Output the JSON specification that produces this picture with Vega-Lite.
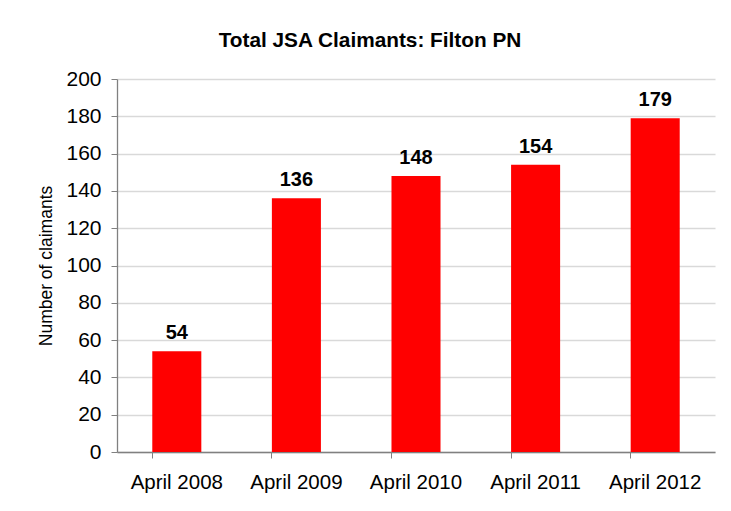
{
  "$schema": "https://vega.github.io/schema/vega-lite/v6.json",
  "width": 598,
  "height": 373,
  "autosize": {"type": "none"},
  "padding": {"left": 117, "top": 79, "right": 16, "bottom": 59},
  "background": "white",
  "title": {
    "text": "Total JSA Claimants: Filton PN",
    "font": "Liberation Sans",
    "fontSize": 20.8,
    "fontWeight": "bold",
    "color": "black",
    "anchor": "middle",
    "frame": "group",
    "dx": -46,
    "offset": 16
  },
  "data": {
    "values": [
      {"period": "April 2008", "claimants": 54},
      {"period": "April 2009", "claimants": 136},
      {"period": "April 2010", "claimants": 148},
      {"period": "April 2011", "claimants": 154},
      {"period": "April 2012", "claimants": 179}
    ]
  },
  "encoding": {
    "x": {
      "field": "period",
      "type": "nominal",
      "sort": null,
      "scale": {"paddingInner": 0.59, "paddingOuter": 0.295},
      "axis": {
        "title": null,
        "labelAngle": 0,
        "labelFont": "Liberation Sans",
        "labelFontSize": 20.5,
        "labelColor": "black",
        "labelPadding": 14,
        "bandPosition": 0,
        "domainColor": "#808080",
        "domainWidth": 1.3,
        "tickColor": "#808080",
        "tickSize": 6,
        "grid": false
      }
    },
    "y": {
      "field": "claimants",
      "type": "quantitative",
      "scale": {"domain": [0, 200]},
      "axis": {
        "title": "Number of claimants",
        "titleFont": "Liberation Sans",
        "titleFontSize": 17.5,
        "titleFontWeight": "normal",
        "titleColor": "black",
        "titlePadding": 10,
        "values": [0, 20, 40, 60, 80, 100, 120, 140, 160, 180, 200],
        "labelFont": "Liberation Sans",
        "labelFontSize": 21,
        "labelColor": "black",
        "labelPadding": 10,
        "domainColor": "#808080",
        "domainWidth": 1.3,
        "tickColor": "#808080",
        "tickSize": 6,
        "gridColor": "#d9d9d9",
        "gridWidth": 1.5
      }
    }
  },
  "layer": [
    {"mark": {"type": "bar", "color": "#ff0000"}},
    {
      "mark": {
        "type": "text",
        "baseline": "alphabetic",
        "dy": -12,
        "font": "Liberation Sans",
        "fontSize": 20,
        "fontWeight": "bold",
        "color": "black"
      },
      "encoding": {"text": {"field": "claimants", "type": "quantitative"}}
    }
  ],
  "config": {"view": {"stroke": null}}
}
